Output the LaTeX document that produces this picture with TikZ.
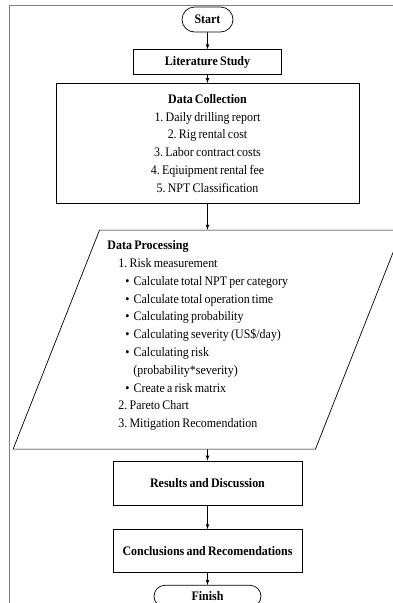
\documentclass[tikz,border=0pt]{standalone}
\usepackage{fontspec}
\setmainfont[FakeStretch=0.92,WordSpace=0.75]{Liberation Serif}
\usetikzlibrary{positioning, shapes, arrows}

\begin{document}
\frenchspacing
\fontsize{13}{17.8}\selectfont
\begin{tikzpicture}[
>=latex,
line width=0.7pt,
term/.style={draw,rounded rectangle,font=\bfseries,inner sep=0pt},
mybox/.style={draw,align=center,inner sep=0pt},
io/.style={draw,trapezium,trapezium left angle=68,trapezium right angle=112,trapezium stretches=true,minimum width=391pt,minimum height=219pt,inner sep=0pt}
]
\clip (0,0) rectangle (393pt,-603pt);
\draw[gray,line width=1pt] (9.5pt,-603pt) |- (393pt,-5.5pt);
\node[term,minimum width=51pt,minimum height=25pt] (start) at (207.5pt,-19.5pt) {Start};
\node[mybox,font=\bfseries,minimum width=148pt,minimum height=25pt,below=17pt of start] (lit) {Literature Study};
\node[mybox,minimum width=303pt,minimum height=120pt,below=8pt of lit] (coll) {\textbf{Data Collection}\\
1.\,Daily drilling report\\
2. Rig rental cost\\
3. Labor contract costs\\
4.\,Eqiuipment rental fee\\
5. NPT Classification};
\node[io,below=26pt of coll] (proc) {\parbox{200pt}{\textbf{Data Processing}\\
\hspace*{11pt}1.\,Risk measurement\\
\hspace*{18pt}\textbullet\hspace{4pt}Calculate total NPT per category\\
\hspace*{18pt}\textbullet\hspace{4pt}Calculate total operation time\\
\hspace*{18pt}\textbullet\hspace{4pt}Calculating probability\\
\hspace*{18pt}\textbullet\hspace{4pt}Calculating severity (US\$/day)\\
\hspace*{18pt}\textbullet\hspace{4pt}Calculating risk\\
\hspace*{26pt}(probability*severity)\\
\hspace*{18pt}\textbullet\hspace{4pt}Create a risk matrix\\
\hspace*{11pt}2.\,Pareto Chart\\
\hspace*{11pt}3.\,Mitigation Recomendation\\[-6.8pt]\mbox{}}};
\node[mybox,font=\bfseries,minimum width=189pt,minimum height=44pt,below=11pt of proc] (res) {Results and Discussion};
\node[mybox,font=\bfseries,minimum width=189pt,minimum height=43pt,below=24pt of res] (conc) {Conclusions and Recomendations};
\node[term,minimum width=107pt,minimum height=22pt,below=12pt of conc] (finish) {Finish};
\draw[->] (start) -- (lit);
\draw[->] (lit) -- (coll);
\draw[->] (coll) -- (proc);
\draw[->] (proc) -- (res);
\draw[->] (res) -- (conc);
\draw[->] (conc) -- (finish);
\end{tikzpicture}
\end{document}
